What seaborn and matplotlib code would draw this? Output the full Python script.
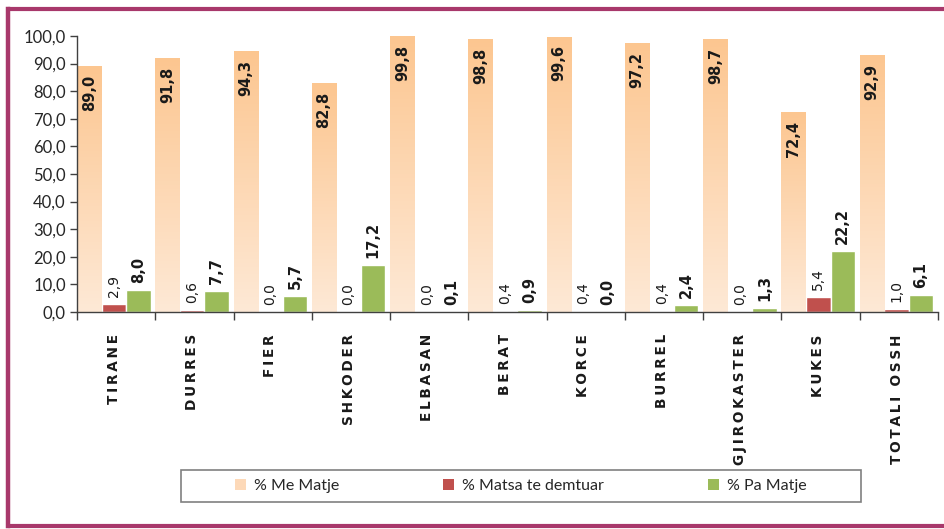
import numpy as np
import pandas as pd
import matplotlib
matplotlib.use("Agg")
import matplotlib.pyplot as plt
import seaborn as sns
from matplotlib.colors import LinearSegmentedColormap
from matplotlib.patches import Patch, Rectangle
from matplotlib.lines import Line2D
from matplotlib.ticker import FuncFormatter

# ---- data ----
cities = ["TIRANE", "DURRES", "FIER", "SHKODER", "ELBASAN", "BERAT", "KORCE",
          "BURREL", "GJIROKASTER", "KUKES", "TOTALI OSSH"]
series_names = ["% Me Matje", "% Matsa te demtuar", "% Pa Matje"]
me_matje = [89.0, 91.8, 94.3, 82.8, 99.8, 98.8, 99.6, 97.2, 98.7, 72.4, 92.9]
matsa_demtuar = [2.9, 0.6, 0.0, 0.0, 0.0, 0.4, 0.4, 0.4, 0.0, 5.4, 1.0]
pa_matje = [8.0, 7.7, 5.7, 17.2, 0.1, 0.9, 0.0, 2.4, 1.3, 22.2, 6.1]
y_ticks = [0, 10, 20, 30, 40, 50, 60, 70, 80, 90, 100]

colors = ["#FCC893", "#C0504D", "#9BBB59"]
grad_top, grad_bot = "#FCC690", "#FEE9D6"

df = pd.DataFrame({
    "city": cities * 3,
    "series": [series_names[0]] * len(cities) + [series_names[1]] * len(cities) + [series_names[2]] * len(cities),
    "value": me_matje + matsa_demtuar + pa_matje,
})

sns.set_style("white")
plt.rcParams["font.family"] = ["DejaVu Sans"]

fig = plt.figure(figsize=(9.44, 5.29), dpi=100)
W, H = 944, 529
ax = fig.add_axes([77 / W, 1 - 312 / H, (938 - 77) / W, (312 - 36) / H])

sns.barplot(data=df, x="city", y="value", hue="series", palette=colors,
            width=0.94, saturation=1, ax=ax, legend=False, errorbar=None)

# gradient fill for the first series
cmap = LinearSegmentedColormap.from_list("peach", [grad_bot, grad_top])
grad = np.linspace(0, 1, 256).reshape(256, 1)
for bar in ax.containers[0]:
    x, w, h = bar.get_x(), bar.get_width(), bar.get_height()
    bar.set_facecolor("none")
    bar.set_edgecolor("none")
    ax.imshow(grad, cmap=cmap, origin="lower", aspect="auto",
              extent=[x, x + w, 0, h], zorder=1.5)

ax.set_xlim(-0.47, len(cities) - 0.47)
ax.set_ylim(0, 100)

# value labels
lab_col = "#1a1a1a"
for bar in ax.containers[0]:
    v = bar.get_height()
    ax.annotate(f"{v:.1f}".replace(".", ","), (bar.get_x() + bar.get_width() / 2, v),
                xytext=(0, -6), textcoords="offset points", rotation=90,
                ha="center", va="top", fontsize=10.5, fontweight="bold", color=lab_col)
for bar in ax.containers[1]:
    v = bar.get_height()
    ax.annotate(f"{v:.1f}".replace(".", ","), (bar.get_x() + bar.get_width() / 2, v),
                xytext=(0, 5), textcoords="offset points", rotation=90,
                ha="center", va="bottom", fontsize=10, color=lab_col)
for bar in ax.containers[2]:
    v = bar.get_height()
    ax.annotate(f"{v:.1f}".replace(".", ","), (bar.get_x() + bar.get_width() / 2, v),
                xytext=(0, 5), textcoords="offset points", rotation=90,
                ha="center", va="bottom", fontsize=10.5, fontweight="bold", color=lab_col)

# axes styling
for s in ["top", "right"]:
    ax.spines[s].set_visible(False)
for s in ["left", "bottom"]:
    ax.spines[s].set_color("#404040")
    ax.spines[s].set_linewidth(1.0)

ax.set_yticks(y_ticks)
ax.yaxis.set_major_formatter(FuncFormatter(lambda v, p: f"{v:.1f}".replace(".", ",")))
ax.tick_params(axis="y", direction="out", length=5, width=1, color="#404040",
               labelsize=12, labelcolor="#262626", pad=3, left=True)
for t in ax.get_yticklabels():
    t.set_fontfamily(["Lato", "DejaVu Sans"])

ax.set_xticks(range(len(cities)))
ax.set_xticklabels(["\u2009".join(c) for c in cities], rotation=90,
                   fontsize=9.8, fontweight="bold", color="#1a1a1a", va="top")
ax.tick_params(axis="x", length=0, pad=16)
ax.set_xticks(np.arange(len(cities) + 1) - 0.47, minor=True)
ax.tick_params(axis="x", which="minor", direction="out", length=6, width=1,
               color="#404040", bottom=True)
ax.set_xlabel("")
ax.set_ylabel("")

# legend
fig.add_artist(Rectangle((181 / W, 1 - 502 / H), (861 - 181) / W, 32 / H,
                         transform=fig.transFigure, fill=False,
                         edgecolor="#808080", linewidth=1.2))
handles = [Patch(facecolor="#FDD9B8", edgecolor="none"),
           Patch(facecolor=colors[1], edgecolor="none"),
           Patch(facecolor=colors[2], edgecolor="none")]
fig.legend(handles, series_names, loc="center", bbox_to_anchor=(521 / W, 1 - 486 / H),
           ncol=3, frameon=False, columnspacing=6.5, handlelength=0.7,
           handleheight=0.7, handletextpad=0.5,
           prop={"family": ["Lato", "DejaVu Sans"], "size": 11.5})

# magenta frame (left, top, bottom)
bc = "#A8386B"
fig.add_artist(Line2D([8 / W, 8 / W], [1 - 9 / H, 1 - 526 / H], transform=fig.transFigure,
                      color=bc, linewidth=3.2, solid_capstyle="projecting"))
fig.add_artist(Line2D([8 / W, 1.0], [1 - 9 / H, 1 - 9 / H], transform=fig.transFigure,
                      color=bc, linewidth=3.0))
fig.add_artist(Line2D([8 / W, 1.0], [1 - 526 / H, 1 - 526 / H], transform=fig.transFigure,
                      color=bc, linewidth=3.0))

fig.savefig("out.png", dpi=100, facecolor="white")
